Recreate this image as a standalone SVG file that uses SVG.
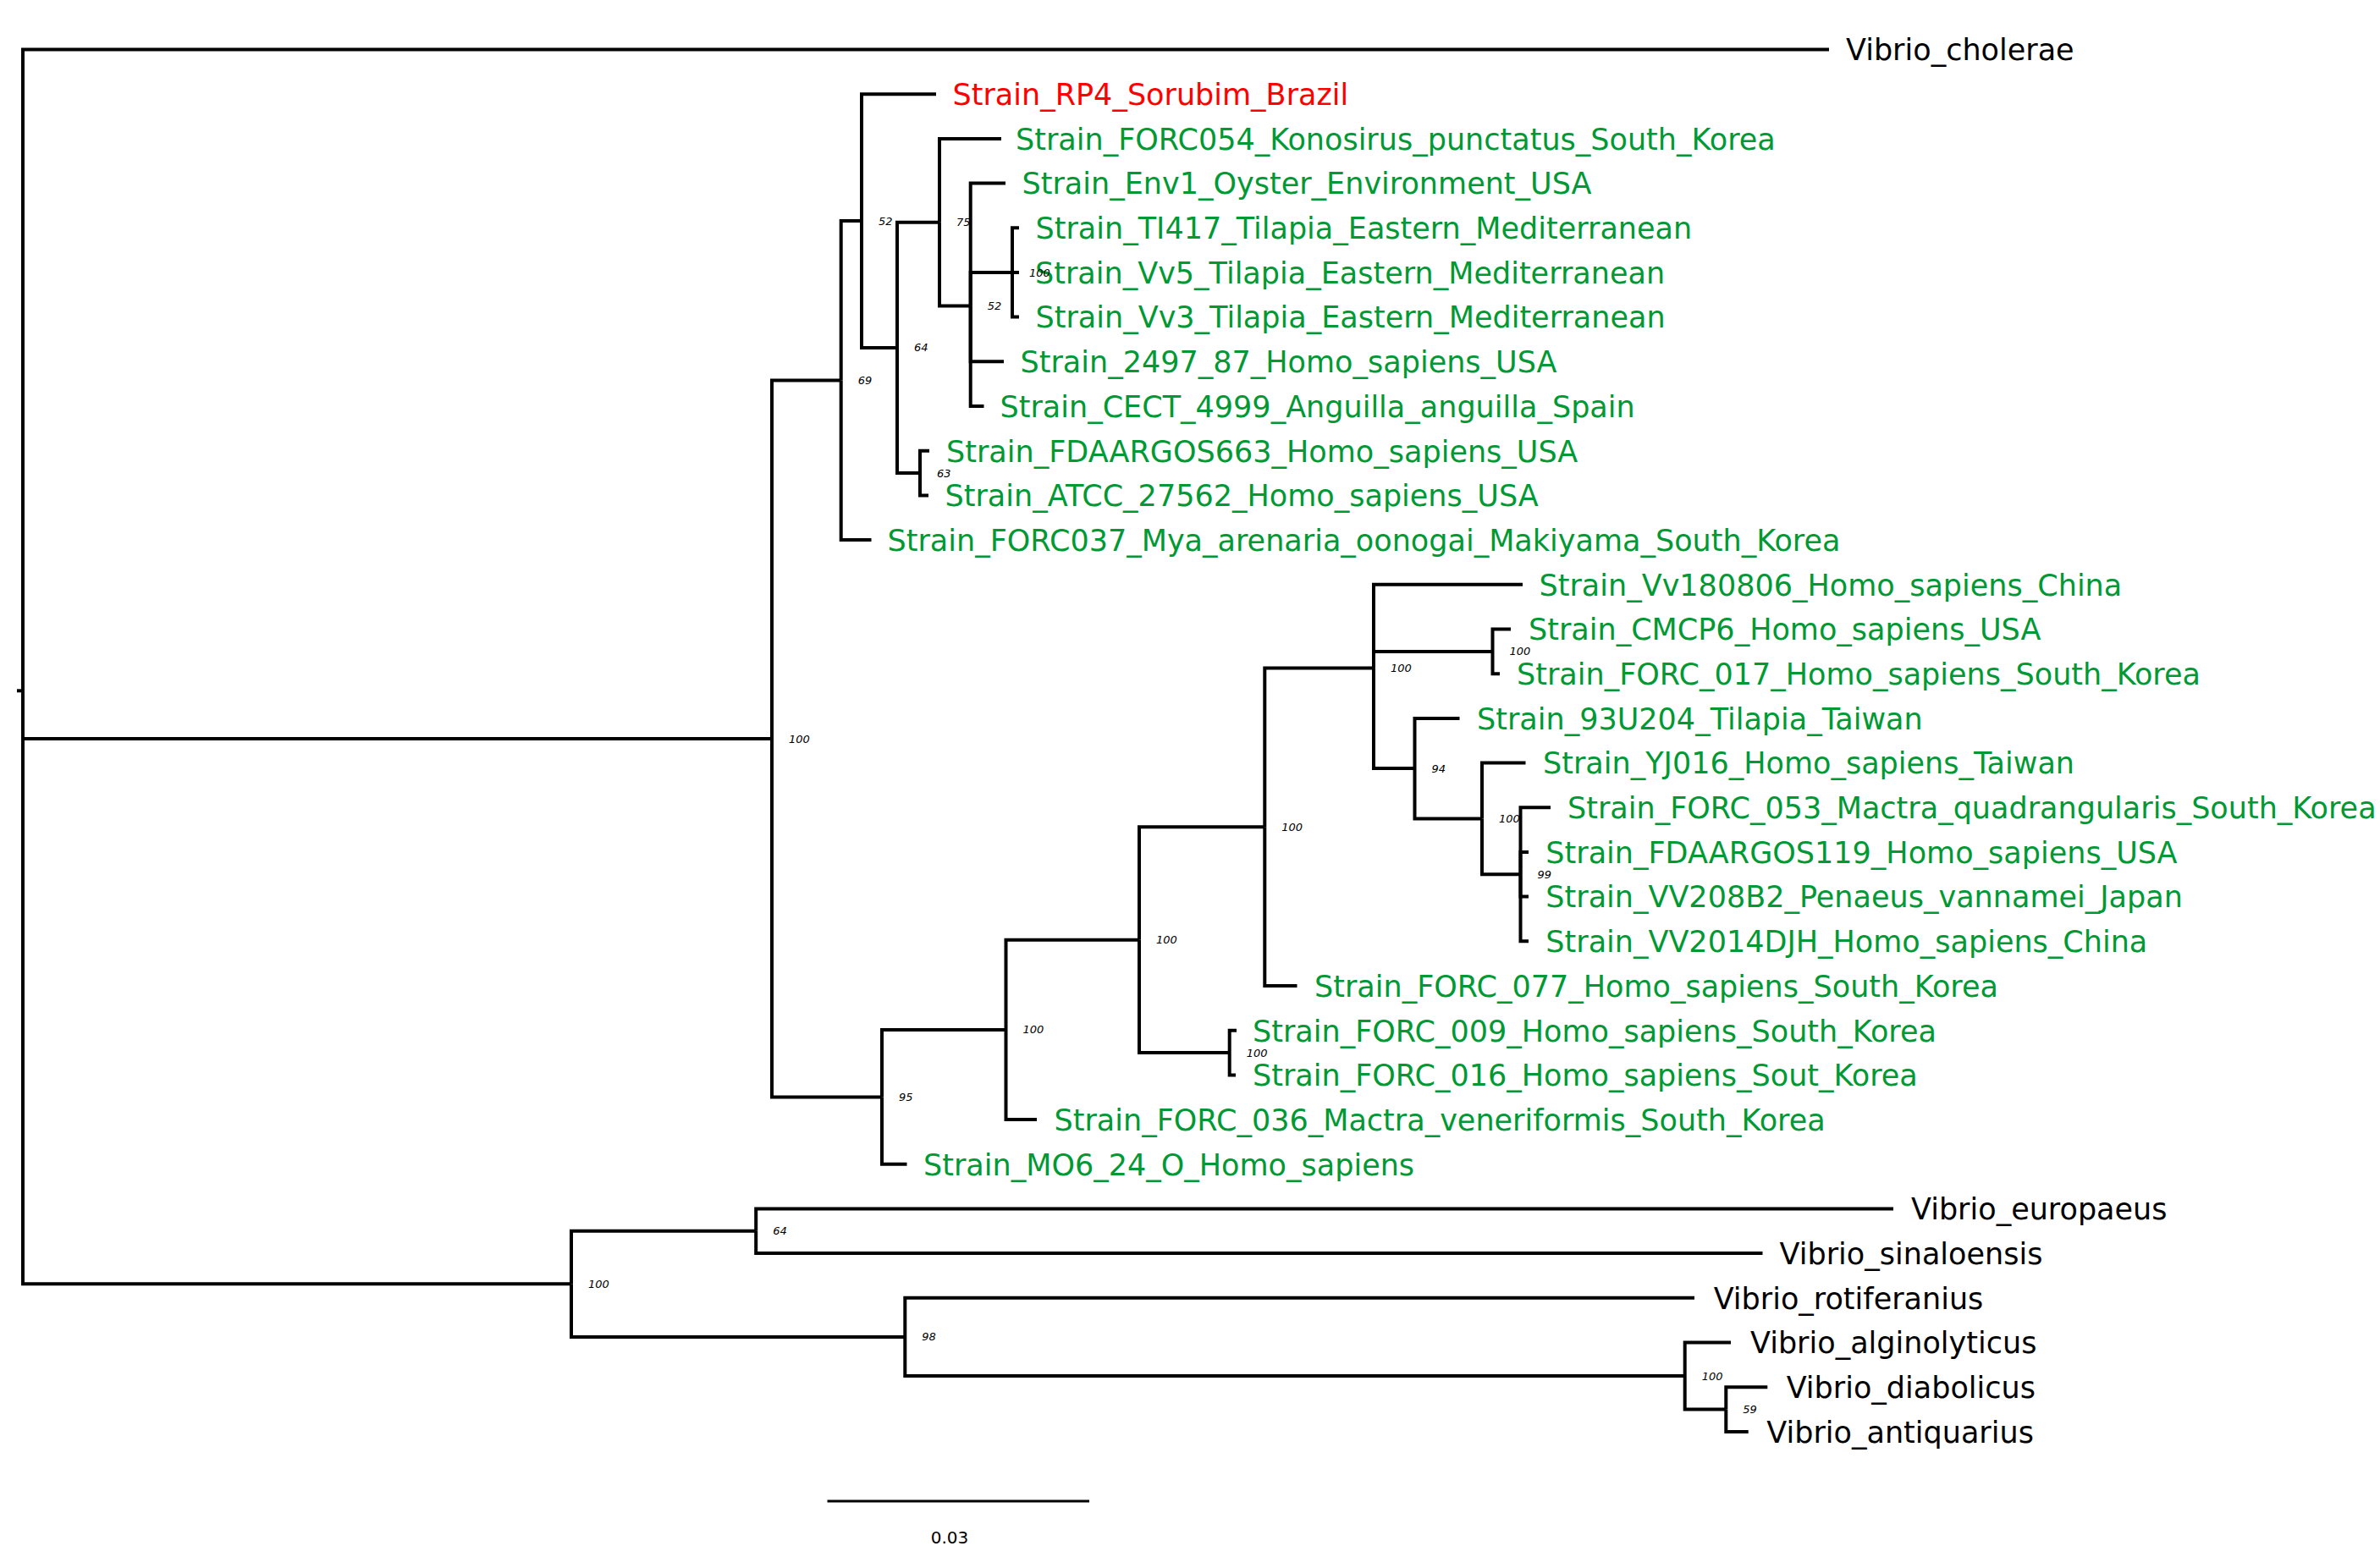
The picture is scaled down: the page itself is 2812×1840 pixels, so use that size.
<svg xmlns="http://www.w3.org/2000/svg" width="2812" height="1840" viewBox="0 0 2812 1840">
<style>
.e{fill:none;stroke:#000;stroke-width:4;stroke-linejoin:miter}
.t{font-family:"DejaVu Sans","Liberation Sans",sans-serif;font-size:35px}
.g{fill:#009933}.r{fill:#ff0000}.k{fill:#000}
.b{font-family:"DejaVu Sans","Liberation Sans",sans-serif;font-size:13px;font-style:italic;fill:#000}
.s{font-family:"DejaVu Sans","Liberation Sans",sans-serif;font-size:20px;fill:#000;text-anchor:middle}
</style>
<rect width="2812" height="1840" fill="#fff"/>
<g id="connectors">
<path class="e" d="M20,816.3 H27"/>
<path class="e" d="M27,816.3 V58.5 H2161"/>
<path class="e" d="M27,816.3 V873 H912"/>
<path class="e" d="M27,816.3 V1517.3 H675"/>
<path class="e" d="M912,873 V449.6 H993.7"/>
<path class="e" d="M912,873 V1296.4 H1042"/>
<path class="e" d="M993.7,449.6 V261 H1018"/>
<path class="e" d="M993.7,449.6 V638.1 H1029.5"/>
<path class="e" d="M1018,261 V111.2 H1106"/>
<path class="e" d="M1018,261 V410.9 H1060"/>
<path class="e" d="M1060,410.9 V262.7 H1110"/>
<path class="e" d="M1060,410.9 V559 H1087"/>
<path class="e" d="M1110,262.7 V163.9 H1183"/>
<path class="e" d="M1110,262.7 V361.5 H1146.7"/>
<path class="e" d="M1146.7,361.5 V216.6 H1188"/>
<path class="e" d="M1146.7,361.5 V322 H1196"/>
<path class="e" d="M1146.7,361.5 V427.3 H1186"/>
<path class="e" d="M1146.7,361.5 V480 H1162.5"/>
<path class="e" d="M1196,322 V269.3 H1204"/>
<path class="e" d="M1196,322 H1204"/>
<path class="e" d="M1196,322 V374.6 H1204"/>
<path class="e" d="M1087,559 V532.7 H1098"/>
<path class="e" d="M1087,559 V585.4 H1097"/>
<path class="e" d="M1042,1296.4 V1216.9 H1188.5"/>
<path class="e" d="M1042,1296.4 V1375.8 H1071.5"/>
<path class="e" d="M1188.5,1216.9 V1110.7 H1346"/>
<path class="e" d="M1188.5,1216.9 V1323.1 H1225"/>
<path class="e" d="M1346,1110.7 V977.3 H1494.3"/>
<path class="e" d="M1346,1110.7 V1244 H1452.7"/>
<path class="e" d="M1452.7,1244 V1217.7 H1461"/>
<path class="e" d="M1452.7,1244 V1270.4 H1460"/>
<path class="e" d="M1494.3,977.3 V789.6 H1623"/>
<path class="e" d="M1494.3,977.3 V1165 H1532.5"/>
<path class="e" d="M1623,789.6 V690.8 H1799"/>
<path class="e" d="M1623,789.6 V769.9 H1763.5"/>
<path class="e" d="M1623,789.6 V908.1 H1671.5"/>
<path class="e" d="M1763.5,769.9 V743.5 H1785"/>
<path class="e" d="M1763.5,769.9 V796.2 H1772"/>
<path class="e" d="M1671.5,908.1 V848.9 H1724.5"/>
<path class="e" d="M1671.5,908.1 V967.4 H1751"/>
<path class="e" d="M1751,967.4 V901.5 H1802.5"/>
<path class="e" d="M1751,967.4 V1033.25 H1796.5"/>
<path class="e" d="M1796.5,1033.25 V954.2 H1832"/>
<path class="e" d="M1796.5,1033.25 V1006.9 H1806"/>
<path class="e" d="M1796.5,1033.25 V1059.6 H1806"/>
<path class="e" d="M1796.5,1033.25 V1112.3 H1806"/>
<path class="e" d="M675,1517.3 V1454.8 H893.2"/>
<path class="e" d="M675,1517.3 V1579.9 H1069.3"/>
<path class="e" d="M893.2,1454.8 V1428.4 H2237"/>
<path class="e" d="M893.2,1454.8 V1481.1 H2082.5"/>
<path class="e" d="M1069.3,1579.9 V1533.8 H2002"/>
<path class="e" d="M1069.3,1579.9 V1626 H1990.7"/>
<path class="e" d="M1990.7,1626 V1586.5 H2045"/>
<path class="e" d="M1990.7,1626 V1665.6 H2039.3"/>
<path class="e" d="M2039.3,1665.6 V1639.2 H2088.3"/>
<path class="e" d="M2039.3,1665.6 V1691.9 H2065.7"/>
</g>
<g id="leaves">
<g id="leaf-cholerae"><text class="t k" x="2181" y="71.3">Vibrio_cholerae</text></g>
<g id="leaf-RP4"><text class="t r" x="1125.5" y="124">Strain_RP4_Sorubim_Brazil</text></g>
<g id="leaf-FORC054"><text class="t g" x="1200" y="176.7">Strain_FORC054_Konosirus_punctatus_South_Korea</text></g>
<g id="leaf-Env1"><text class="t g" x="1207.5" y="229.4">Strain_Env1_Oyster_Environment_USA</text></g>
<g id="leaf-TI417"><text class="t g" x="1223.5" y="282.1">Strain_TI417_Tilapia_Eastern_Mediterranean</text></g>
<g id="leaf-Vv5"><text class="t g" x="1223" y="334.8">Strain_Vv5_Tilapia_Eastern_Mediterranean</text></g>
<g id="leaf-Vv3"><text class="t g" x="1223.5" y="387.4">Strain_Vv3_Tilapia_Eastern_Mediterranean</text></g>
<g id="leaf-2497"><text class="t g" x="1205.5" y="440.1">Strain_2497_87_Homo_sapiens_USA</text></g>
<g id="leaf-CECT"><text class="t g" x="1181.5" y="492.8">Strain_CECT_4999_Anguilla_anguilla_Spain</text></g>
<g id="leaf-FDAARGOS663"><text class="t g" x="1118" y="545.5">Strain_FDAARGOS663_Homo_sapiens_USA</text></g>
<g id="leaf-ATCC"><text class="t g" x="1116.5" y="598.2">Strain_ATCC_27562_Homo_sapiens_USA</text></g>
<g id="leaf-FORC037"><text class="t g" x="1048.5" y="650.9">Strain_FORC037_Mya_arenaria_oonogai_Makiyama_South_Korea</text></g>
<g id="leaf-Vv180806"><text class="t g" x="1818.5" y="703.6">Strain_Vv180806_Homo_sapiens_China</text></g>
<g id="leaf-CMCP6"><text class="t g" x="1806" y="756.3">Strain_CMCP6_Homo_sapiens_USA</text></g>
<g id="leaf-FORC017"><text class="t g" x="1792" y="809">Strain_FORC_017_Homo_sapiens_South_Korea</text></g>
<g id="leaf-93U204"><text class="t g" x="1745" y="861.7">Strain_93U204_Tilapia_Taiwan</text></g>
<g id="leaf-YJ016"><text class="t g" x="1823" y="914.3">Strain_YJ016_Homo_sapiens_Taiwan</text></g>
<g id="leaf-FORC053"><text class="t g" x="1852" y="967">Strain_FORC_053_Mactra_quadrangularis_South_Korea</text></g>
<g id="leaf-FDAARGOS119"><text class="t g" x="1826.3" y="1019.7">Strain_FDAARGOS119_Homo_sapiens_USA</text></g>
<g id="leaf-VV208B2"><text class="t g" x="1826.3" y="1072.4">Strain_VV208B2_Penaeus_vannamei_Japan</text></g>
<g id="leaf-VV2014DJH"><text class="t g" x="1826.3" y="1125.1">Strain_VV2014DJH_Homo_sapiens_China</text></g>
<g id="leaf-FORC077"><text class="t g" x="1553" y="1177.8">Strain_FORC_077_Homo_sapiens_South_Korea</text></g>
<g id="leaf-FORC009"><text class="t g" x="1480" y="1230.5">Strain_FORC_009_Homo_sapiens_South_Korea</text></g>
<g id="leaf-FORC016"><text class="t g" x="1480" y="1283.2">Strain_FORC_016_Homo_sapiens_Sout_Korea</text></g>
<g id="leaf-FORC036"><text class="t g" x="1245.5" y="1335.9">Strain_FORC_036_Mactra_veneriformis_South_Korea</text></g>
<g id="leaf-MO6"><text class="t g" x="1091" y="1388.6">Strain_MO6_24_O_Homo_sapiens</text></g>
<g id="leaf-europaeus"><text class="t k" x="2258" y="1441.2">Vibrio_europaeus</text></g>
<g id="leaf-sinaloensis"><text class="t k" x="2102.6" y="1493.9">Vibrio_sinaloensis</text></g>
<g id="leaf-rotiferanius"><text class="t k" x="2024.7" y="1546.6">Vibrio_rotiferanius</text></g>
<g id="leaf-alginolyticus"><text class="t k" x="2068" y="1599.3">Vibrio_alginolyticus</text></g>
<g id="leaf-diabolicus"><text class="t k" x="2110.7" y="1652">Vibrio_diabolicus</text></g>
<g id="leaf-antiquarius"><text class="t k" x="2087.3" y="1704.7">Vibrio_antiquarius</text></g>
</g>
<g id="support">
<g id="n-ingroup"><text class="b" x="932" y="877.5">100</text></g>
<g id="n-69"><text class="b" x="1013.7" y="454.1">69</text></g>
<g id="n-52a"><text class="b" x="1038" y="265.5">52</text></g>
<g id="n-64a"><text class="b" x="1080" y="415.4">64</text></g>
<g id="n-75"><text class="b" x="1130" y="267.2">75</text></g>
<g id="n-52b"><text class="b" x="1166.7" y="366">52</text></g>
<g id="n-100t"><text class="b" x="1216" y="326.5">100</text></g>
<g id="n-63"><text class="b" x="1107" y="563.5">63</text></g>
<g id="n-95"><text class="b" x="1062" y="1300.9">95</text></g>
<g id="n-100a"><text class="b" x="1208.5" y="1221.4">100</text></g>
<g id="n-100b"><text class="b" x="1366" y="1115.2">100</text></g>
<g id="n-100c"><text class="b" x="1472.7" y="1248.5">100</text></g>
<g id="n-100d"><text class="b" x="1514.3" y="981.8">100</text></g>
<g id="n-100e"><text class="b" x="1643" y="794.1">100</text></g>
<g id="n-100f"><text class="b" x="1783.5" y="774.4">100</text></g>
<g id="n-94"><text class="b" x="1691.5" y="912.6">94</text></g>
<g id="n-100g"><text class="b" x="1771" y="971.9">100</text></g>
<g id="n-99"><text class="b" x="1816.5" y="1037.7">99</text></g>
<g id="n-outgroup"><text class="b" x="695" y="1521.8">100</text></g>
<g id="n-64b"><text class="b" x="913.2" y="1459.3">64</text></g>
<g id="n-98"><text class="b" x="1089.3" y="1584.4">98</text></g>
<g id="n-100h"><text class="b" x="2010.7" y="1630.5">100</text></g>
<g id="n-59"><text class="b" x="2059.3" y="1670.1">59</text></g>
</g>
<g id="scale-bar">
<path d="M977.5,1774 H1287" fill="none" stroke="#000" stroke-width="3"/>
<text class="s" x="1122" y="1824">0.03</text>
</g>
</svg>
